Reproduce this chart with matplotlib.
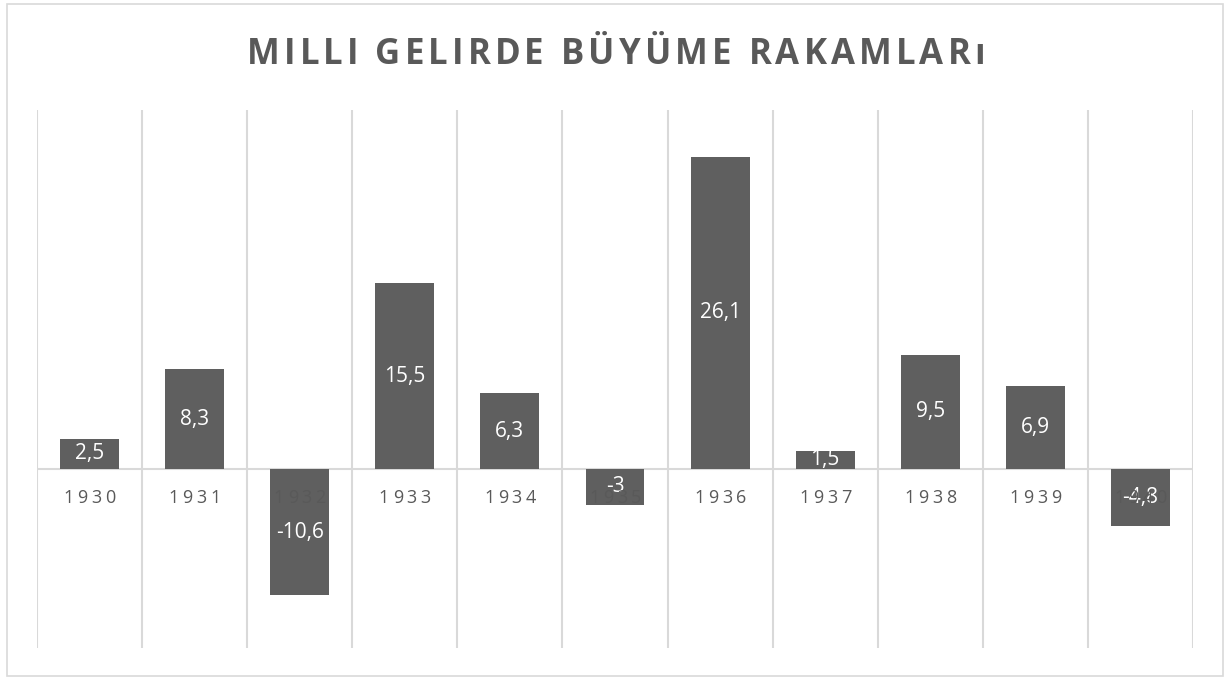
import matplotlib
matplotlib.use("Agg")
import matplotlib.pyplot as plt
from matplotlib.patches import Rectangle
from matplotlib.transforms import IdentityTransform
from matplotlib.font_manager import FontProperties

years = ["1930", "1931", "1932", "1933", "1934", "1935", "1936", "1937", "1938", "1939", "1940"]
growth = [2.5, 8.3, -10.6, 15.5, 6.3, -3, 26.1, 1.5, 9.5, 6.9, -4.8]
title = "MILLI GELIRDE BÜYÜME RAKAMLARı"

plt.rcParams['font.family'] = ['Open Sans', 'DejaVu Sans']

W, H = 1226, 677
fig = plt.figure(figsize=(W / 100, H / 100), dpi=100)
fig.patch.set_facecolor("white")
renderer = fig.canvas.get_renderer()


def spaced_text(xc, yc, s, fp, total_width, color, zorder):
    """Draw s centred at pixel (xc, yc) with letter spacing to fill total_width."""
    def w(t):
        return renderer.get_text_width_height_descent(t, fp, ismath=False)[0]
    space_w = w("a a") - w("aa")
    widths = [space_w if c == " " else w(c) for c in s]
    gap = (total_width - sum(widths)) / max(len(s) - 1, 1)
    x = xc - total_width / 2
    for c, cw in zip(s, widths):
        if c != " ":
            fig.text(x, yc, c, transform=IdentityTransform(), ha="left",
                     va="center", fontproperties=fp, color=color, zorder=zorder)
        x += cw + gap


# outer border
fig.add_artist(Rectangle((7 / W, 1 - 676 / H), (1223 - 7) / W, (676 - 4) / H,
                         transform=fig.transFigure, fill=False,
                         edgecolor="#d9d9d9", linewidth=1.2))

ax = fig.add_axes([37 / W, (H - 648) / H, 1156 / W, 538 / H])
n = len(years)
x = list(range(n))
ax.set_xlim(-0.5, n - 0.5)
ax.set_ylim(-15, 30)
for s in ax.spines.values():
    s.set_visible(False)
ax.set_xticks([])
ax.set_yticks([])

for i in range(n + 1):
    ax.axvline(i - 0.5, color="#d9d9d9", linewidth=1.5, zorder=0)
ax.axhline(0, color="#d9d9d9", linewidth=1.5, zorder=1)

ax.bar(x, growth, width=0.56, color="#5f5f5f", zorder=2)

year_fp = FontProperties(family=["Open Sans", "DejaVu Sans"], size=13)
for i, (yr, v) in enumerate(zip(years, growth)):
    px, py = ax.transData.transform((i, 0))
    spaced_text(px, py - 29, yr, year_fp, 52, "#595959", 3)
    lbl = f"{v:g}".replace(".", ",")
    ax.text(i, v / 2, lbl, ha="center", va="center",
            fontsize=15, color="white", zorder=4)

title_fp = FontProperties(family=["Open Sans", "DejaVu Sans"], size=25, weight="bold")
spaced_text(W / 2 + 3, H - 55, title, title_fp, 738, "#595959", 5)

fig.savefig("out.png", dpi=100, facecolor="white")
